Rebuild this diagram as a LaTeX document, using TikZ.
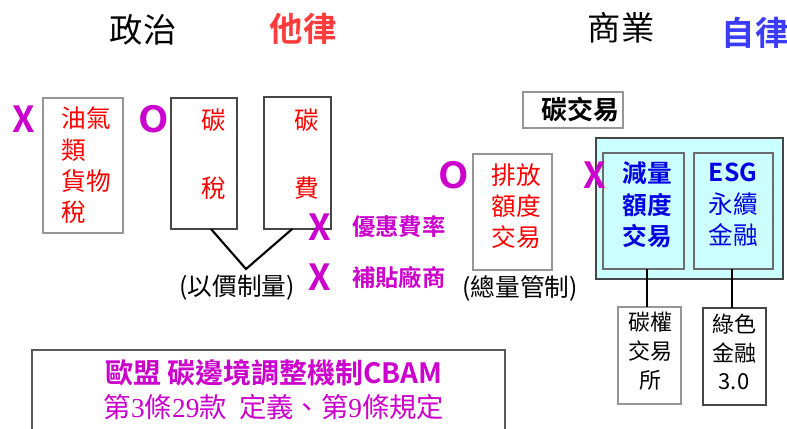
\documentclass[tikz,border=0pt]{standalone}
\usepackage{fontspec}
\setmainfont{Noto Sans CJK TC}[BoldFont={Noto Sans CJK TC Bold}]
\newfontfamily\digitfont{Liberation Serif}
\definecolor{mag}{RGB}{204,0,204}
\definecolor{tred}{RGB}{255,60,60}
\definecolor{bred}{RGB}{255,0,0}
\definecolor{tblue}{RGB}{60,60,255}
\definecolor{bblue}{RGB}{0,0,225}
\definecolor{cyanfill}{RGB}{204,255,255}
\definecolor{boxgray}{RGB}{150,150,150}
\definecolor{boxdark}{RGB}{70,70,70}
\begin{document}
\begin{tikzpicture}[x=0.75pt,y=-0.75pt,
  every node/.style={inner sep=0pt,outer sep=0pt},
  titlefont/.style={font=\fontsize{25}{30}\selectfont},
  gbox/.style={draw=boxgray,line width=0.9pt,fill=white},
  dbox/.style={draw=boxdark,line width=0.9pt,fill=white},
  boxtxt/.style={font=\fontsize{18.5}{23.5}\selectfont,align=center},
  smalltxt/.style={font=\fontsize{16.5}{21.5}\selectfont,align=center},
  xomark/.style={text=mag,font=\bfseries\fontsize{27}{30}\selectfont},
  note/.style={text=mag,font=\bfseries\fontsize{17.5}{20}\selectfont},
  conn/.style={draw=black,line width=1.6pt}
]
\useasboundingbox (0,0) rectangle (787,428);

% titles
\node[titlefont] (zz) at (143,30) {政治};
\node[titlefont,text=tred,font=\bfseries\fontsize{25}{30}\selectfont] (tl) at (303,29) {他律};
\node[titlefont] (sy) at (621,28) {商業};
\node[titlefont,text=tblue,font=\bfseries\fontsize{25}{30}\selectfont] (zl) at (755,33) {自律};

% left boxes
\node[gbox,minimum width=60pt,minimum height=101.25pt] (b1) at (83,165.5) {};
\node[boxtxt,text=bred,align=left] (b1t) at (86.5,165.5) {油氣\\類\\貨物\\稅};
\node[xomark] (x1) at (24,119) {X};
\node[xomark,xscale=1.1] (o1) at (154,119) {O};

\node[dbox,minimum width=49.5pt,minimum height=98.25pt] (b2) at (204,163.5) {};
\node[boxtxt,text=bred] (b2a) at (214,120) {碳};
\node[boxtxt,text=bred] (b2b) at (214,188) {稅};

\node[dbox,minimum width=50.25pt,minimum height=99pt] (b3) at (297.5,163) {};
\node[boxtxt,text=bred] (b3a) at (307,120) {碳};
\node[boxtxt,text=bred] (b3b) at (307,188) {費};

\coordinate (v) at (246,269);
\draw[conn] ([xshift=5.25pt]b2.south) -- (v) -- ([xshift=-4pt]b3.south);
\node[font=\fontsize{18.5}{21}\selectfont] (ywzl) at (237,288) {(以價制量)};

\node[xomark] (x2) at (320,227) {X};
\node[note,anchor=west] (yh) at (352,227) {優惠費率};
\node[xomark] (x3) at (320,277) {X};
\node[note,anchor=west] (bt) at (352,277) {補貼廠商};

% carbon trading
\node[gbox,minimum width=75pt,minimum height=27pt] (tj) at (573,110) {};
\node[font=\bfseries\fontsize{19.5}{22}\selectfont] (tjt) at (580,110) {碳交易};

\node[xomark,xscale=1.1] (o2) at (454,175) {O};
\node[gbox,minimum width=59.25pt,minimum height=87pt] (pf) at (512.5,212) {};
\node[boxtxt,text=bred] (pft) at (516,206) {排放\\額度\\交易};
\node[font=\fontsize{18.5}{21}\selectfont] (zlgz) at (520,288) {(總量管制)};

\node[draw=boxdark,line width=0.9pt,fill=cyanfill,minimum width=140.25pt,minimum height=105.75pt] (cy) at (689.5,208.5) {};
\node[draw=boxdark!80,line width=0.9pt,minimum width=60.75pt,minimum height=87pt] (jl) at (643.5,211) {};
\node[boxtxt,text=bblue,font=\bfseries\fontsize{18.5}{23.5}\selectfont] (jlt) at (647.5,205) {減量\\額度\\交易};
\node[draw=boxdark!80,line width=0.9pt,minimum width=59.25pt,minimum height=87pt] (esg) at (733.5,211) {};
\node[boxtxt,text=bblue] (esgt) at (733,205) {\textbf{ESG}\\永續\\金融};
\node[xomark] (x4) at (595,175) {X};

\node[gbox,minimum width=47.25pt,minimum height=72.75pt] (ex) at (649.5,355.5) {};
\node[smalltxt] (ext) at (650,351) {碳權\\交易\\所};
\node[dbox,minimum width=47.25pt,minimum height=72.75pt] (gf) at (734.5,356.5) {};
\node[smalltxt] (gft) at (734,352) {綠色\\金融\\3.0};

\draw[conn] ([xshift=2.6pt]jl.south) -- ([xshift=2.6pt]jl.south |- ex.north);
\draw[conn] ([xshift=-1pt]esg.south) -- ([xshift=-1pt]esg.south |- gf.north);

% bottom box
\node[gbox,draw=boxdark!90,minimum width=354.75pt,minimum height=66pt,anchor=north] (cb) at (268.5,350) {};
\node[text=mag,font=\bfseries\fontsize{21}{23}\selectfont] (cb1) at (274,373) {歐盟 碳邊境調整機制CBAM};
\node[text=mag,font=\fontsize{20.5}{23}\selectfont] (cb2) at (274,407) {第{\digitfont 3}條{\digitfont 29}款\ \ 定義、第{\digitfont 9}條規定};
\end{tikzpicture}
\end{document}
